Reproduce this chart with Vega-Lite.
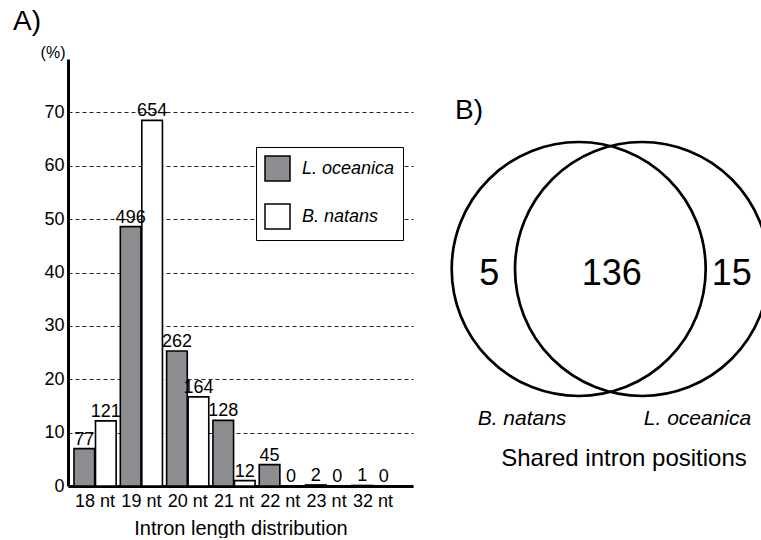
{
  "$schema": "https://vega.github.io/schema/vega-lite/v6.json",
  "padding": {"left": 13, "top": 8, "right": 0, "bottom": 0},
  "config": {
    "view": {"stroke": null},
    "font": "Liberation Sans",
    "concat": {"spacing": 17},
    "title": {"color": "black", "fontWeight": "normal"}
  },
  "datasets": {
    "bars": [
      {"length": "18 nt", "species": "L. oceanica", "pct": 7.0, "count": 77},
      {"length": "18 nt", "species": "B. natans", "pct": 12.2, "count": 121},
      {"length": "19 nt", "species": "L. oceanica", "pct": 48.6, "count": 496},
      {"length": "19 nt", "species": "B. natans", "pct": 68.5, "count": 654},
      {"length": "20 nt", "species": "L. oceanica", "pct": 25.3, "count": 262},
      {"length": "20 nt", "species": "B. natans", "pct": 16.7, "count": 164},
      {"length": "21 nt", "species": "L. oceanica", "pct": 12.3, "count": 128},
      {"length": "21 nt", "species": "B. natans", "pct": 1.0, "count": 12},
      {"length": "22 nt", "species": "L. oceanica", "pct": 4.0, "count": 45},
      {"length": "22 nt", "species": "B. natans", "pct": 0, "count": 0},
      {"length": "23 nt", "species": "L. oceanica", "pct": 0.2, "count": 2},
      {"length": "23 nt", "species": "B. natans", "pct": 0, "count": 0},
      {"length": "32 nt", "species": "L. oceanica", "pct": 0.1, "count": 1},
      {"length": "32 nt", "species": "B. natans", "pct": 0, "count": 0}
    ],
    "circles": [
      {"set": "B. natans", "cx": 148.7, "cy": 210},
      {"set": "L. oceanica", "cx": 212, "cy": 210}
    ],
    "counts": [
      {"x": 59.2, "y": 225.5, "n": "5"},
      {"x": 181.7, "y": 225.5, "n": "136"},
      {"x": 301.7, "y": 225.5, "n": "15"}
    ],
    "species": [
      {"x": 92, "y": 365.5, "name": "B. natans"},
      {"x": 267.5, "y": 365.5, "name": "L. oceanica"}
    ],
    "caption": [
      {"x": 194, "y": 407.2, "text": "Shared intron positions"}
    ]
  },
  "hconcat": [
    {
      "width": 345,
      "height": 427,
      "title": {"text": "A)", "anchor": "start", "frame": "group", "fontSize": 28, "dx": -55, "dy": 14, "offset": 0, "baseline": "alphabetic"},
      "data": {"name": "bars"},
      "encoding": {
        "x": {
          "field": "length", "type": "nominal", "sort": null,
          "scale": {"paddingInner": 0.09, "paddingOuter": 0.27, "align": 0.24},
          "axis": {"labelAngle": 0, "ticks": false, "domainColor": "black", "domainWidth": 3, "labelFontSize": 18, "labelColor": "black", "labelPadding": 6, "titleFontSize": 20, "titleFontWeight": "normal", "titleColor": "black", "titlePadding": 8},
          "title": "Intron length distribution"
        },
        "xOffset": {"field": "species", "type": "nominal", "sort": ["L. oceanica", "B. natans"], "scale": {"paddingInner": 0.04, "paddingOuter": 0}},
        "y": {
          "field": "pct", "type": "quantitative",
          "scale": {"domain": [0, 80], "nice": false},
          "axis": {"values": [0, 10, 20, 30, 40, 50, 60, 70], "grid": true, "gridDash": [4, 3], "gridColor": "#222222", "gridWidth": 1, "domainColor": "black", "domainWidth": 3, "ticks": false, "labelFontSize": 18, "labelColor": "black", "labelPadding": 4, "titleAngle": 0, "titleX": -3, "titleY": -2, "titleAlign": "right", "titleBaseline": "alphabetic", "titleFontSize": 16, "titleFontWeight": "normal", "titleColor": "black"},
          "title": "(%)"
        }
      },
      "layer": [
        {
          "mark": {"type": "bar", "stroke": "black", "strokeWidth": 1.6},
          "encoding": {
            "fill": {
              "field": "species", "type": "nominal",
              "scale": {"domain": ["L. oceanica", "B. natans"], "range": ["#8d8e91", "#ffffff"]},
              "legend": {"orient": "none", "legendX": 188, "legendY": 88, "title": null, "fillColor": "white", "strokeColor": "black", "padding": 8, "symbolType": "square", "symbolSize": 625, "symbolStrokeColor": "black", "symbolStrokeWidth": 1.5, "symbolOpacity": 1, "labelFontSize": 18, "labelFontStyle": "italic", "labelColor": "black", "labelOffset": 11, "rowPadding": 17}
            }
          }
        },
        {
          "mark": {"type": "text", "baseline": "alphabetic", "dy": -4, "fontSize": 18, "color": "black"},
          "encoding": {"text": {"field": "count", "type": "quantitative"}}
        }
      ]
    },
    {
      "width": 331,
      "height": 427,
      "title": {"text": "B)", "anchor": "start", "frame": "group", "fontSize": 28, "dx": 25, "dy": 88, "offset": 0, "baseline": "alphabetic"},
      "layer": [
        {
          "data": {"name": "circles"},
          "mark": {"type": "point", "shape": "circle", "filled": false, "stroke": "black", "strokeWidth": 2.7, "size": 64516, "opacity": 1, "clip": true},
          "encoding": {
            "x": {"field": "cx", "type": "quantitative", "scale": {"domain": [0, 331], "nice": false, "zero": false}, "axis": null},
            "y": {"field": "cy", "type": "quantitative", "scale": {"domain": [0, 427], "nice": false, "zero": false, "reverse": true}, "axis": null}
          }
        },
        {
          "data": {"name": "counts"},
          "mark": {"type": "text", "fontSize": 36, "baseline": "alphabetic", "align": "center", "color": "black"},
          "encoding": {
            "x": {"field": "x", "type": "quantitative"},
            "y": {"field": "y", "type": "quantitative"},
            "text": {"field": "n"}
          }
        },
        {
          "data": {"name": "species"},
          "mark": {"type": "text", "fontSize": 21, "fontStyle": "italic", "baseline": "alphabetic", "align": "center", "color": "black"},
          "encoding": {
            "x": {"field": "x", "type": "quantitative"},
            "y": {"field": "y", "type": "quantitative"},
            "text": {"field": "name"}
          }
        },
        {
          "data": {"name": "caption"},
          "mark": {"type": "text", "fontSize": 24, "baseline": "alphabetic", "align": "center", "color": "black"},
          "encoding": {
            "x": {"field": "x", "type": "quantitative"},
            "y": {"field": "y", "type": "quantitative"},
            "text": {"field": "text"}
          }
        }
      ]
    }
  ]
}
